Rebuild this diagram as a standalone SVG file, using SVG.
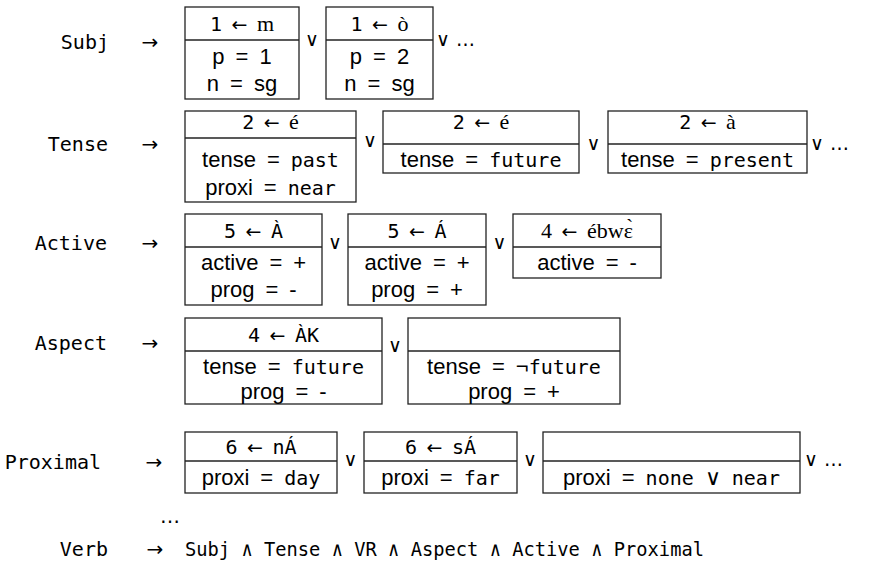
<svg xmlns="http://www.w3.org/2000/svg" width="870" height="566" viewBox="0 0 870 566">
<style>
text{fill:#000}
.lbl{font-family:"DejaVu Sans Mono",monospace;font-size:20px;text-anchor:end}
.arr{font-family:"DejaVu Sans",sans-serif;font-size:20px;text-anchor:middle}
.h{font-family:"DejaVu Sans",sans-serif;font-size:19px;text-anchor:middle}
.m{font-family:"DejaVu Sans Mono",monospace;font-size:20px}
.s{font-family:"Liberation Serif","DejaVu Serif",serif;font-size:22px}
.b{font-family:"Liberation Sans",Arial,sans-serif;font-size:22px;text-anchor:middle}
.bm{font-family:"DejaVu Sans Mono",monospace;font-size:20px}
.op{font-family:"DejaVu Sans",sans-serif;font-size:19px}
.opm{font-family:"DejaVu Sans",sans-serif;font-size:19px;text-anchor:middle}
.box rect,.box line{fill:none;stroke:#222;stroke-width:1.3}
</style>

<!-- Row labels -->
<g id="labels">
<text class="lbl" x="109" y="49">Subj</text>
<text class="lbl" x="108" y="151">Tense</text>
<text class="lbl" x="107" y="250">Active</text>
<text class="lbl" x="107" y="350">Aspect</text>
<text class="lbl" x="101" y="469">Proximal</text>
<text class="lbl" x="108" y="556">Verb</text>
</g>

<g id="connectors">
<text class="arr" x="150" y="49">→</text>
<text class="arr" x="150" y="151">→</text>
<text class="arr" x="150" y="250">→</text>
<text class="arr" x="150" y="350">→</text>
<text class="arr" x="154" y="469">→</text>
<text class="arr" x="155" y="556">→</text>
</g>

<!-- Subj row -->
<g id="subj1" class="box">
<rect x="185" y="7" width="114" height="92"/><line x1="185" y1="40" x2="299" y2="40"/>
<text class="h" x="242" y="31"><tspan class="m">1</tspan>&#8194;←&#8194;<tspan class="s">m</tspan></text>
<text class="b" x="242" y="64">p&#8194;=&#8194;1</text>
<text class="b" x="242" y="91">n&#8194;=&#8194;sg</text>
</g>
<g id="subj2" class="box">
<rect x="326" y="7" width="107" height="92"/><line x1="326" y1="40" x2="433" y2="40"/>
<text class="h" x="379.5" y="31"><tspan class="m">1</tspan>&#8194;←&#8194;<tspan class="s">ò</tspan></text>
<text class="b" x="379.5" y="64">p&#8194;=&#8194;2</text>
<text class="b" x="379.5" y="91">n&#8194;=&#8194;sg</text>
</g>

<!-- Tense row -->
<g id="tense1" class="box">
<rect x="185" y="111" width="171" height="91"/><line x1="185" y1="138" x2="356" y2="138"/>
<text class="h" x="270.5" y="129"><tspan class="m">2</tspan>&#8194;←&#8194;<tspan class="s">é</tspan></text>
<text class="b" x="270.5" y="167">tense&#8194;=&#8194;<tspan class="bm">past</tspan></text>
<text class="b" x="270.5" y="195">proxi&#8194;=&#8194;<tspan class="bm">near</tspan></text>
</g>
<g id="tense2" class="box">
<rect x="383" y="111" width="196" height="62"/><line x1="383" y1="144" x2="579" y2="144"/>
<text class="h" x="481" y="129"><tspan class="m">2</tspan>&#8194;←&#8194;<tspan class="s">é</tspan></text>
<text class="b" x="481" y="167">tense&#8194;=&#8194;<tspan class="bm">future</tspan></text>
</g>
<g id="tense3" class="box">
<rect x="608" y="111" width="199" height="62"/><line x1="608" y1="144" x2="807" y2="144"/>
<text class="h" x="707.5" y="129"><tspan class="m">2</tspan>&#8194;←&#8194;<tspan class="s">à</tspan></text>
<text class="b" x="707.5" y="167">tense&#8194;=&#8194;<tspan class="bm">present</tspan></text>
</g>

<!-- Active row -->
<g id="active1" class="box">
<rect x="185" y="214" width="137" height="91"/><line x1="185" y1="247" x2="322" y2="247"/>
<text class="h" x="253.5" y="238"><tspan class="m">5</tspan>&#8194;←&#8194;<tspan class="m">À</tspan></text>
<text class="b" x="253.5" y="270">active&#8194;=&#8194;+</text>
<text class="b" x="253.5" y="297">prog&#8194;=&#8194;-</text>
</g>
<g id="active2" class="box">
<rect x="348" y="214" width="138" height="91"/><line x1="348" y1="247" x2="486" y2="247"/>
<text class="h" x="417" y="238"><tspan class="m">5</tspan>&#8194;←&#8194;<tspan class="m">Á</tspan></text>
<text class="b" x="417" y="270">active&#8194;=&#8194;+</text>
<text class="b" x="417" y="297">prog&#8194;=&#8194;+</text>
</g>
<g id="active3" class="box">
<rect x="513" y="214" width="148" height="64"/><line x1="513" y1="247" x2="661" y2="247"/>
<text class="h" x="587" y="238"><tspan class="s">4</tspan>&#8194;←&#8194;<tspan class="s">ébwɛ̀</tspan></text>
<text class="b" x="587" y="270">active&#8194;=&#8194;-</text>
</g>

<!-- Aspect row -->
<g id="aspect1" class="box">
<rect x="185" y="318" width="197" height="86"/><line x1="185" y1="351" x2="382" y2="351"/>
<text class="h" x="283.5" y="342"><tspan class="m">4</tspan>&#8194;←&#8194;<tspan class="m">ÀK</tspan></text>
<text class="b" x="283.5" y="374">tense&#8194;=&#8194;<tspan class="bm">future</tspan></text>
<text class="b" x="283.5" y="399">prog&#8194;=&#8194;-</text>
</g>
<g id="aspect2" class="box">
<rect x="408" y="318" width="212" height="86"/><line x1="408" y1="351" x2="620" y2="351"/>
<text class="b" x="514" y="374">tense&#8194;=&#8194;¬<tspan class="bm">future</tspan></text>
<text class="b" x="514" y="399">prog&#8194;=&#8194;+</text>
</g>

<!-- Proximal row -->
<g id="prox1" class="box">
<rect x="185" y="432" width="152" height="61"/><line x1="185" y1="461" x2="337" y2="461"/>
<text class="h" x="261" y="454"><tspan class="m">6</tspan>&#8194;←&#8194;<tspan class="m">nÁ</tspan></text>
<text class="b" x="261" y="485">proxi&#8194;=&#8194;<tspan class="bm">day</tspan></text>
</g>
<g id="prox2" class="box">
<rect x="364" y="432" width="153" height="61"/><line x1="364" y1="461" x2="517" y2="461"/>
<text class="h" x="440.5" y="454"><tspan class="m">6</tspan>&#8194;←&#8194;<tspan class="m">sÁ</tspan></text>
<text class="b" x="440.5" y="485">proxi&#8194;=&#8194;<tspan class="bm">far</tspan></text>
</g>
<g id="prox3" class="box">
<rect x="543" y="432" width="257" height="61"/><line x1="543" y1="461" x2="800" y2="461"/>
<text class="b" x="671.5" y="485">proxi&#8194;=&#8194;<tspan class="bm">none</tspan>&#8194;∨&#8194;<tspan class="bm">near</tspan></text>
</g>

<!-- disjunction operators -->
<g id="operators">
<text class="opm" x="312" y="46">∨</text>
<text class="op" x="436" y="46">∨ …</text>
<text class="opm" x="370" y="147">∨</text>
<text class="opm" x="593.5" y="150">∨</text>
<text class="op" x="810" y="150">∨ …</text>
<text class="opm" x="335" y="249">∨</text>
<text class="opm" x="499.5" y="249">∨</text>
<text class="opm" x="395" y="352">∨</text>
<text class="opm" x="350.5" y="466">∨</text>
<text class="opm" x="530" y="466">∨</text>
<text class="op" x="804" y="466">∨ …</text>
</g>

<g id="bottom">
<text class="arr" x="170" y="523">…</text>
<text class="m" x="185" y="556" textLength="519" lengthAdjust="spacingAndGlyphs">Subj ∧ Tense ∧ VR ∧ Aspect ∧ Active ∧ Proximal</text>
</g>
</svg>
